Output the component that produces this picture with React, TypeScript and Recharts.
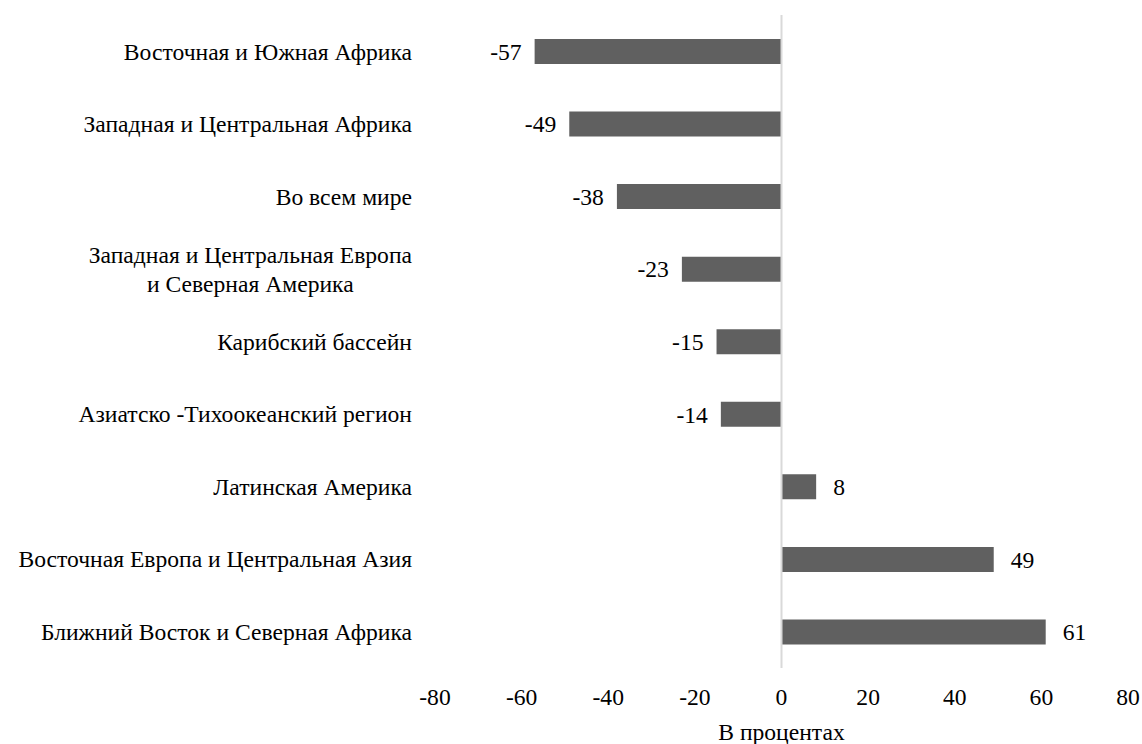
import React from "react";
import {
  BarChart,
  Bar,
  XAxis,
  YAxis,
  ReferenceLine,
  LabelList,
} from "recharts";

const categories = [
  "Восточная и Южная Африка",
  "Западная и Центральная Африка",
  "Во всем мире",
  "Западная и Центральная Европа\nи Северная Америка",
  "Карибский бассейн",
  "Азиатско -Тихоокеанский регион",
  "Латинская Америка",
  "Восточная Европа и Центральная Азия",
  "Ближний Восток и Северная Африка",
];
const values = [-57, -49, -38, -23, -15, -14, 8, 49, 61];
const xTicks = [-80, -60, -40, -20, 0, 20, 40, 60, 80];
const axisTitle = "В процентах";

const data = categories.map((name, i) => ({ name, value: values[i] }));

const FONT = '"Liberation Serif", "Times New Roman", serif';
const FS = 23.6;
const textStyle = { fontFamily: FONT, fontSize: FS, fill: "#000" };

function measure(text: string) {
  try {
    const ctx = document.createElement("canvas").getContext("2d");
    if (ctx) {
      ctx.font = `${FS}px "Liberation Serif"`;
      return ctx.measureText(text).width;
    }
  } catch (e) {}
  return text.length * FS * 0.5;
}

// wrapped labels: first line right-aligned, the rest centred under it
function CategoryTick(props: any) {
  const { x, y, payload } = props;
  const lines = String(payload.value).split("\n");
  if (lines.length === 1) {
    return (
      <text x={x} y={y} dy="0.35em" textAnchor="end" style={textStyle}>
        {lines[0]}
      </text>
    );
  }
  const w = measure(lines[0]);
  const cx = x - w / 2;
  const lh = 29;
  const top = y - ((lines.length - 1) * lh) / 2;
  return (
    <text style={textStyle} textAnchor="middle">
      {lines.map((l, i) => (
        <tspan key={i} x={cx} y={top + i * lh} dy="0.35em">
          {l}
        </tspan>
      ))}
    </text>
  );
}

function ValueLabel(props: any) {
  const { x, y, width, height, value } = props;
  const left = Math.min(x, x + width);
  const right = Math.max(x, x + width);
  const neg = value < 0;
  return (
    <text
      x={neg ? left - 13 : right + 17}
      y={y + height / 2}
      dy="0.35em"
      textAnchor={neg ? "end" : "start"}
      style={textStyle}
    >
      {value}
    </text>
  );
}

export default function App() {
  return (
    <div style={{ width: 1142, height: 744, background: "#fff", fontFamily: FONT }}>
      <style>{`body{margin:0}`}</style>
      <BarChart
        width={1142}
        height={744}
        data={data}
        layout="vertical"
        margin={{ top: 15, right: 14, bottom: 0, left: 0 }}
      >
        <XAxis
          type="number"
          domain={[-80, 80]}
          ticks={xTicks}
          axisLine={false}
          tickLine={false}
          tickSize={0}
          tickMargin={20}
          height={76}
          tick={textStyle}
          label={{
            value: axisTitle,
            position: "insideBottom",
            offset: 4,
            style: textStyle,
          }}
        />
        <YAxis
          type="category"
          dataKey="name"
          width={435}
          axisLine={false}
          tickLine={false}
          tickSize={0}
          tickMargin={23}
          interval={0}
          tick={<CategoryTick />}
        />
        <ReferenceLine x={0} stroke="#d9d9d9" strokeWidth={2} />
        <Bar dataKey="value" fill="#606060" barSize={25} isAnimationActive={false}>
          <LabelList dataKey="value" content={<ValueLabel />} />
        </Bar>
      </BarChart>
    </div>
  );
}
